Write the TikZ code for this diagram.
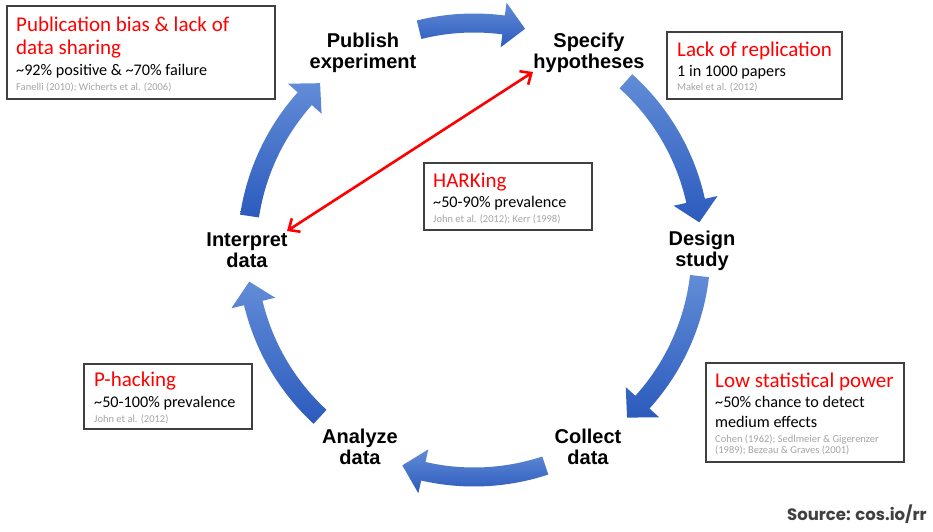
\documentclass[tikz,border=0pt]{standalone}
\usepackage{fontspec}
\setmainfont{Carlito}
\newfontfamily\arialfont{Liberation Sans}
\newfontfamily\srcfont{Poppins}
\usetikzlibrary{calc,arrows.meta}
\definecolor{arrowlight}{RGB}{98,140,215}
\definecolor{arrowdark}{RGB}{44,91,189}
\definecolor{boxline}{RGB}{64,64,64}
\definecolor{cite}{RGB}{165,165,165}
\definecolor{srcgray}{RGB}{64,64,64}
\newcommand\cyclearrow[2]{%
  \pgfmathsetmacro\cyHB{#2+5.5}%
  \shade[top color=arrowlight, bottom color=arrowdark]
    ($(C)+(#1:236.5)$) arc[start angle=#1, end angle=\cyHB, radius=236.5]
    -- ($(C)+(\cyHB:249.5)$) -- ($(C)+(#2:227)$) -- ($(C)+(\cyHB:204.5)$)
    -- ($(C)+(\cyHB:217.5)$) arc[start angle=\cyHB, end angle=#1, radius=217.5]
    -- cycle;}
\tikzset{
  stage/.style={align=center, font=\arialfont\bfseries\fontsize{20}{21.5}\selectfont, text=black, inner sep=0pt},
  issuebox/.style={draw=boxline, line width=1.2pt, fill=white},
  redtxt/.style={anchor=base west, inner sep=0pt, text=red, font=\fontsize{21}{24}\selectfont},
  blacktxt/.style={anchor=base west, inner sep=0pt, text=black, font=\fontsize{16.2}{20}\selectfont},
  citetxt/.style={anchor=base west, inner sep=0pt, text=cite, font=\fontsize{10.5}{11}\selectfont},
}
\begin{document}
\begin{tikzpicture}[x=1pt,y=1pt]
\useasboundingbox (0,0) rectangle (933,531);
\fill[white] (0,0) rectangle (933,531);
\coordinate (C) at (474,281);
% cycle arrows
\cyclearrow{104}{77}
\cyclearrow{48}{7}
\cyclearrow{-6.6}{-47.6}
\cyclearrow{-71.7}{-108.4}
\cyclearrow{-132.7}{-172}
\cyclearrow{171.4}{132.7}
% stage labels
\node[stage] (publish) at (363,478) {Publish\\experiment};
\node[stage] (specify) at (589,478) {Specify\\hypotheses};
\node[stage] (design) at (702,280) {Design\\study};
\node[stage] (collect) at (588,84) {Collect\\data};
\node[stage] (analyze) at (360,84) {Analyze\\data};
\node[stage] (interpret) at (247,281) {Interpret\\data};
% boxes
\draw[issuebox] (7,525) rectangle (275,432);
\node[redtxt] (b1a) at (16,499) {Publication bias \& lack of};
\node[redtxt] (b1b) at (16,476) {data sharing};
\node[blacktxt] (b1c) at (16,455) {\textasciitilde92\% positive \& \textasciitilde70\% failure};
\node[citetxt] (b1d) at (16,440) {Fanelli (2010); Wicherts et al. (2006)};

\draw[issuebox] (667,499) rectangle (842,432);
\node[redtxt] (b2a) at (677,474) {Lack of replication};
\node[blacktxt] (b2b) at (677,454) {1 in 1000 papers};
\node[citetxt] (b2c) at (677,440) {Makel et al. (2012)};

\draw[issuebox] (424,368) rectangle (592,301);
\node[redtxt] (b3a) at (433,344) {HARKing};
\node[blacktxt] (b3b) at (433,324) {\textasciitilde50-90\% prevalence};
\node[citetxt] (b3c) at (433,309) {John et al. (2012); Kerr (1998)};

\draw[issuebox] (84,167) rectangle (252,102);
\node[redtxt] (b4a) at (94,145) {P-hacking};
\node[blacktxt] (b4b) at (94,124) {\textasciitilde50-100\% prevalence};
\node[citetxt] (b4c) at (94,109) {John et al. (2012)};

\draw[issuebox] (706,168) rectangle (904,69);
\node[redtxt] (b5a) at (715,144) {Low statistical power};
\node[blacktxt] (b5b) at (715,124) {\textasciitilde50\% chance to detect};
\node[blacktxt] (b5c) at (715,104) {medium effects};
\node[citetxt] (b5d) at (715,89) {Cohen (1962); Sedlmeier \& Gigerenzer};
\node[citetxt] (b5e) at (715,78) {(1989); Bezeau \& Graves (2001)};
% HARKing double arrow
\coordinate (harkA) at (287,300);
\coordinate (harkB) at (533,459);
\draw[red, line width=2.6pt, {Straight Barb[length=9pt,width=16pt]}-{Straight Barb[length=9pt,width=16pt]}] (harkA) -- (harkB);
% source
\node[anchor=base east, inner sep=0pt, text=srcgray, font=\srcfont\bfseries\fontsize{16.5}{18}\selectfont] (src) at (927,11) {Source: cos.io/rr};
\end{tikzpicture}
\end{document}
